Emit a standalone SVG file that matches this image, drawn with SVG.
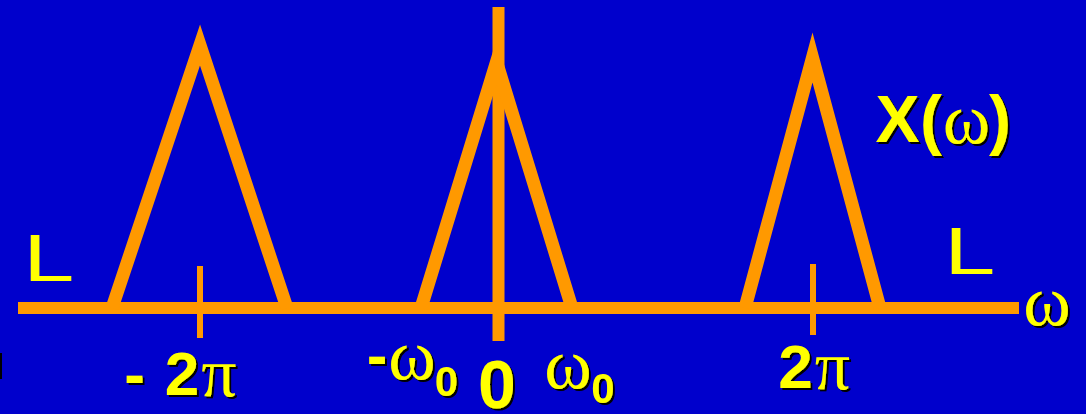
<svg xmlns="http://www.w3.org/2000/svg" width="1086" height="414" viewBox="0 0 1086 414">
<defs>
<filter id="sh" x="-10%" y="-10%" width="130%" height="130%"><feDropShadow dx="2" dy="2" stdDeviation="0" flood-color="#000" flood-opacity="1"/></filter>
<style>
.ax{stroke:#FF9900;stroke-width:12;fill:none}
.tick{stroke:#FF9900;stroke-width:6;fill:none}
.tri{stroke:#FF9900;stroke-width:13;fill:none;stroke-linejoin:miter;stroke-miterlimit:10}
.b{font-family:"Liberation Sans",Arial,sans-serif;font-weight:bold;fill:#FFFF00;text-anchor:middle}
.g{font-family:"Liberation Serif","Times New Roman",serif;fill:#FFFF00;text-anchor:middle}
.l{font-family:"Liberation Sans",Arial,sans-serif;fill:#FFFF00;font-size:67px}
.shd{filter:url(#sh)}
</style>
</defs>
<rect width="1086" height="414" fill="#0000CC"/>
<rect x="0" y="353" width="2" height="26" fill="#000"/>
<g id="connectors">
<line class="ax" x1="18" y1="308" x2="1019" y2="308"/>
<line class="ax" x1="498.5" y1="7" x2="498.5" y2="341"/>
<line class="tick" x1="200" y1="266" x2="200" y2="338"/>
<line class="tick" x1="813" y1="264" x2="813" y2="335"/>
</g>
<g id="tri-left"><polyline class="tri" points="112,308 200,45 287,308"/></g>
<g id="tri-center"><polyline class="tri" points="421,308 496.5,62 572,308"/></g>
<g id="tri-right"><polyline class="tri" points="745,308 812.5,57.5 880,308"/></g>
<g id="L-left"><text class="l" transform="translate(30,281) scale(1.37,1)" x="-4.9" y="0">L</text></g>
<g id="L-right"><text class="l" transform="translate(951,274) scale(1.37,1)" x="-4.9" y="0">L</text></g>
<g id="lbl-X" class="shd">
<text y="142"><tspan class="b" x="897.5" font-size="66">X</tspan><tspan class="b" x="931" font-size="66">(</tspan><tspan class="g" x="966.5" y="143" font-size="72">ω</tspan><tspan class="b" x="1000" y="142" font-size="66">)</tspan></text>
</g>
<g id="lbl-omega-axis" class="shd"><text class="g" x="1047" y="325" font-size="72">ω</text></g>
<g id="lbl-m2pi" class="shd">
<text><tspan class="b" x="134.5" y="395" font-size="62">-</tspan><tspan class="b" x="182" y="395" font-size="62">2</tspan><tspan class="g" x="219" y="396" font-size="70">π</tspan></text>
</g>
<g id="lbl-mw0" class="shd">
<text><tspan class="b" x="377" y="376" font-size="62">-</tspan><tspan class="g" x="412" y="379" font-size="72">ω</tspan><tspan class="b" x="446.5" y="396" font-size="42">0</tspan></text>
</g>
<g id="lbl-0" class="shd"><text class="b" x="497" y="408" font-size="68">0</text></g>
<g id="lbl-w0" class="shd">
<text><tspan class="g" x="568" y="388" font-size="72">ω</tspan><tspan class="b" x="603" y="403" font-size="42">0</tspan></text>
</g>
<g id="lbl-2pi" class="shd">
<text><tspan class="b" x="795.5" y="388" font-size="62">2</tspan><tspan class="g" x="832.5" y="389" font-size="70">π</tspan></text>
</g>
</svg>
